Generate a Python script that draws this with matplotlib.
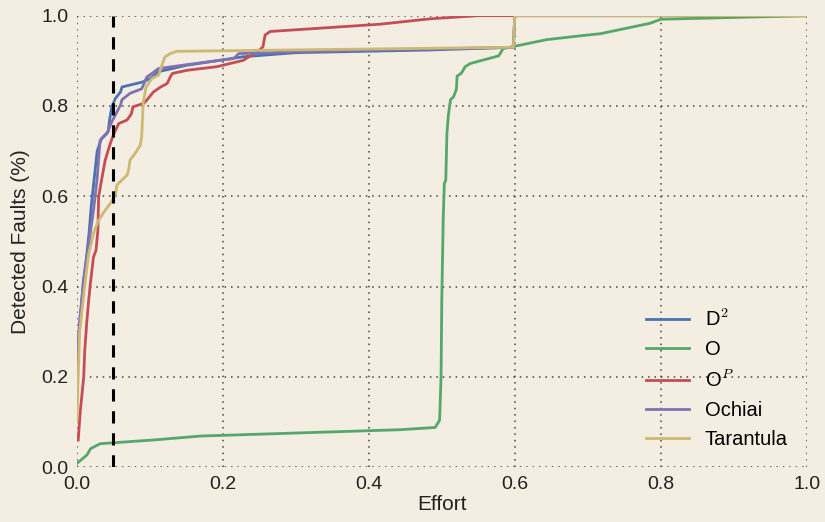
import matplotlib.pyplot as plt

# curve points (effort, fraction of faults found)
d2_x = [0.0, 0.002, 0.005, 0.009, 0.013, 0.017, 0.020, 0.024, 0.028, 0.034, 0.043,
        0.045, 0.048, 0.053, 0.060, 0.062, 0.090, 0.101, 0.112, 0.15, 0.228, 0.30,
        0.484, 0.598, 0.600, 1.0]
d2_y = [0.19, 0.27, 0.33, 0.41, 0.46, 0.52, 0.58, 0.64, 0.70, 0.728, 0.743,
        0.769, 0.798, 0.817, 0.831, 0.842, 0.853, 0.861, 0.876, 0.89, 0.909, 0.918,
        0.924, 0.93, 1.0, 1.0]

o_x = [0.0, 0.014, 0.019, 0.032, 0.103, 0.17, 0.443, 0.491, 0.497, 0.499, 0.500,
       0.502, 0.5035, 0.5055, 0.507, 0.509, 0.512, 0.516, 0.520, 0.521, 0.527,
       0.532, 0.539, 0.578, 0.584, 0.596, 0.644, 0.699, 0.717, 0.785, 0.80, 1.0]
o_y = [0.008, 0.027, 0.041, 0.052, 0.06, 0.069, 0.083, 0.088, 0.104, 0.2, 0.37,
       0.554, 0.628, 0.636, 0.739, 0.78, 0.814, 0.82, 0.837, 0.866, 0.873,
       0.887, 0.894, 0.911, 0.927, 0.931, 0.947, 0.957, 0.96, 0.983, 0.992, 1.0]

op_x = [0.002, 0.005, 0.0096, 0.011, 0.014, 0.0164, 0.0187, 0.023, 0.0264, 0.029,
        0.030, 0.034, 0.039, 0.046, 0.051, 0.0575, 0.069, 0.075, 0.077, 0.092,
        0.096, 0.105, 0.115, 0.124, 0.128, 0.131, 0.151, 0.192, 0.228, 0.249,
        0.255, 0.258, 0.265, 0.415, 0.484, 0.55, 1.0]
op_y = [0.06, 0.126, 0.2, 0.259, 0.326, 0.37, 0.407, 0.466, 0.48, 0.525,
        0.599, 0.636, 0.68, 0.717, 0.739, 0.761, 0.769, 0.783, 0.798, 0.806,
        0.813, 0.831, 0.842, 0.85, 0.864, 0.872, 0.879, 0.887, 0.901, 0.922,
        0.931, 0.957, 0.965, 0.981, 0.993, 1.0, 1.0]

ochiai_x = [0.0, 0.0036, 0.0096, 0.014, 0.023, 0.0278, 0.032, 0.0415, 0.048, 0.060,
            0.062, 0.073, 0.089, 0.096, 0.103, 0.112, 0.158, 0.215, 0.222, 0.30,
            0.484, 0.598, 0.600, 1.0]
ochiai_y = [0.21, 0.319, 0.414, 0.466, 0.569, 0.636, 0.724, 0.739, 0.765, 0.802,
            0.814, 0.828, 0.838, 0.864, 0.872, 0.883, 0.893, 0.905, 0.916, 0.92,
            0.926, 0.93, 1.0, 1.0]

tar_x = [0.0, 0.004, 0.0118, 0.0164, 0.023, 0.030, 0.039, 0.046, 0.053, 0.055,
         0.069, 0.071, 0.073, 0.080, 0.087, 0.089, 0.091, 0.095, 0.103, 0.112,
         0.116, 0.119, 0.121, 0.128, 0.137, 0.598, 0.600, 1.0]
tar_y = [0.1, 0.3, 0.414, 0.473, 0.518, 0.547, 0.569, 0.584, 0.602, 0.625,
         0.647, 0.658, 0.68, 0.695, 0.713, 0.732, 0.806, 0.842, 0.861, 0.868,
         0.887, 0.901, 0.909, 0.916, 0.921, 0.93, 1.0, 1.0]

series = [
    ('D$^2$', d2_x, d2_y, '#4C72B0'),
    ('O', o_x, o_y, '#55A868'),
    ('O$^P$', op_x, op_y, '#C44E52'),
    ('Ochiai', ochiai_x, ochiai_y, '#8172B2'),
    ('Tarantula', tar_x, tar_y, '#CCB974'),
]
cutoff = 0.05

plt.rcParams['font.family'] = ['Liberation Sans', 'DejaVu Sans']
plt.rcParams['mathtext.fontset'] = 'cm'

bg = '#F3EDE2'
fig = plt.figure(figsize=(8.25, 5.22), dpi=100, facecolor=bg)
ax = fig.add_axes([0.093, 0.105, 0.885, 0.865], facecolor=bg)

for label, xs, ys, color in series:
    ax.plot(xs, ys, color=color, lw=2, label=label)
ax.axvline(cutoff, color='black', lw=2.2, linestyle=(0, (4, 3.2)))

ax.set_xlim(0, 1)
ax.set_ylim(0, 1)
ax.set_xticks([0, 0.2, 0.4, 0.6, 0.8, 1.0])
ax.set_yticks([0, 0.2, 0.4, 0.6, 0.8, 1.0])
ax.grid(True, linestyle=(0, (1, 3.2)), color='#444444', lw=1.1)
for s in ax.spines.values():
    s.set_visible(False)
ax.tick_params(length=0, labelsize=14, colors='#222222', pad=6)
ax.set_xlabel('Effort', fontsize=15, color='#222222', labelpad=2)
ax.set_ylabel('Detected Faults (%)', fontsize=15, color='#222222', labelpad=8)

ax.legend(loc='lower right', bbox_to_anchor=(0.985, 0.022), frameon=False,
          fontsize=14.5, handlelength=2.1, handletextpad=0.8,
          labelspacing=0.5, borderaxespad=0.0)

fig.savefig('out.png', dpi=100, facecolor=bg)
